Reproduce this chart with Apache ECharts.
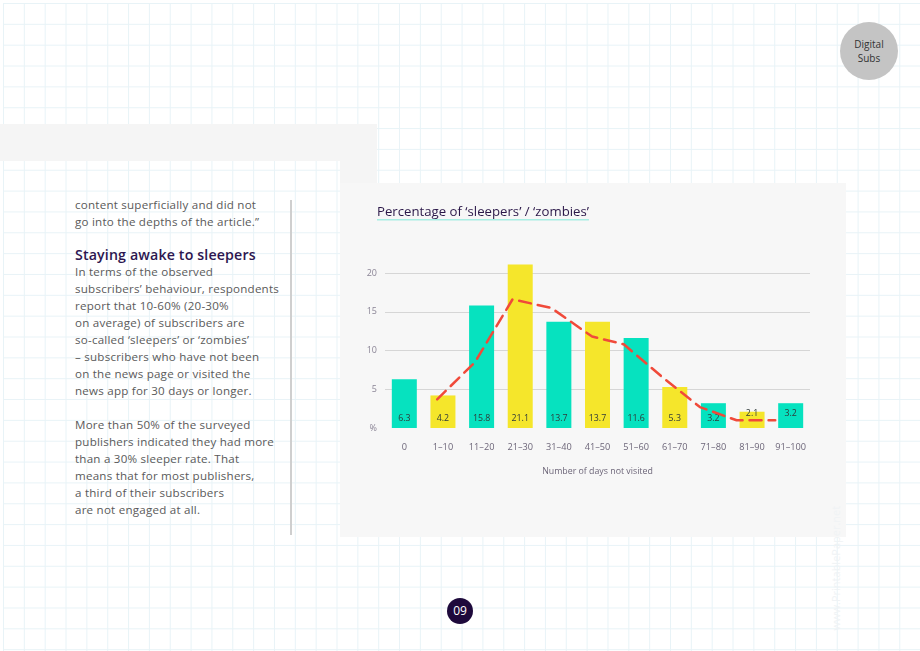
<!DOCTYPE html>
<html>
<head>
<meta charset="utf-8">
<script src="https://cdn.jsdelivr.net/npm/echarts@6/dist/echarts.min.js"></script>
<style>
  html, body { margin: 0; padding: 0; width: 920px; height: 651px; overflow: hidden; background: #ffffff; font-family: "Open Sans", Lato, sans-serif; }
  #page { position: absolute; left: 0; top: 0; width: 920px; height: 651px; }
  #gridbg { position: absolute; left: 3px; top: 3px; width: 917px; height: 648px;
    background-image:
      linear-gradient(to right, #e8f3f7 1px, transparent 1px),
      linear-gradient(to bottom, #e8f3f7 1px, transparent 1px);
    background-size: 20.85px 20.85px; }
  .grey { position: absolute; background: #f5f5f5; }
  #textcol { position: absolute; left: 75px; top: 196px; width: 225px; color: #5a5a5a; font-size: 11.6px; line-height: 17px; letter-spacing: 0.22px; }
  #textcol p { margin: 0; }
  #textcol h3 { margin: 16px 0 0 0; font-size: 14.2px; line-height: 17px; color: #2d1650; font-weight: 600; letter-spacing: 0.15px; }
  #sep { position: absolute; left: 290px; top: 200px; width: 1.5px; height: 335px; background: #cfcfcf; }
  #badge { position: absolute; left: 840px; top: 22px; width: 58px; height: 58px; border-radius: 50%; background: #c4c4c4; color: #333; font-size: 10px; line-height: 14px; text-align: center; display: flex; align-items: center; justify-content: center; }
  #pagenum { position: absolute; left: 447px; top: 598px; width: 26px; height: 26px; border-radius: 50%; background: #1e0a3c; color: #fff; font-size: 12px; line-height: 26px; text-align: center; }
  #wm { position: absolute; left: 790px; top: 578px; width: 90px; transform: rotate(-90deg); transform-origin: center; color: #f0f3f5; font-size: 11px; white-space: nowrap; }
  #chart { position: absolute; left: 0; top: 0; width: 920px; height: 651px; }
</style>
</head>
<body>
<div id="page">
  <div id="gridbg"></div>
  <div class="grey" style="left:0;top:124px;width:377px;height:37px;"></div>
  <div class="grey" style="left:340px;top:161px;width:37px;height:22px;"></div>
  <div class="grey" style="left:340px;top:183px;width:506px;height:354px;background:#f7f7f7;"></div>
  <div id="textcol">
    <p>content superficially and did not<br>go into the depths of the article.”</p>
    <h3>Staying awake to sleepers</h3>
    <p>In terms of the observed<br>subscribers’ behaviour, respondents<br>report that 10-60% (20-30%<br>on average) of subscribers are<br>so-called ‘sleepers’ or ‘zombies’<br>– subscribers who have not been<br>on the news page or visited the<br>news app for 30 days or longer.</p>
    <p style="margin-top:17px;">More than 50% of the surveyed<br>publishers indicated they had more<br>than a 30% sleeper rate. That<br>means that for most publishers,<br>a third of their subscribers<br>are not engaged at all.</p>
  </div>
  <div id="sep"></div>
  <div id="badge"><div>Digital<br>Subs</div></div>
  <div id="pagenum">09</div>
  <div id="wm">www.PrintablePaper.net</div>
  <div id="chart"></div>
</div>
<script>
// ---- data ----
const categories = ['0', '1–10', '11–20', '21–30', '31–40', '41–50', '51–60', '61–70', '71–80', '81–90', '91–100'];
const sleeperValues = [6.3, 4.2, 15.8, 21.1, 13.7, 13.7, 11.6, 5.3, 3.2, 2.1, 3.2];
const trendX = [0.85, 1.83, 2.8, 3.8, 4.86, 5.68, 6.67, 7.65, 8.6, 9.6];
const trendY = [3.7, 8.5, 16.6, 15.5, 11.8, 10.8, 6.6, 2.7, 1.0, 1.0];
const yTicks = [0, 5, 10, 15, 20];
const titleText = 'Percentage of ‘sleepers’ / ‘zombies’';
const axisName = 'Number of days not visited';

// ---- styles ----
const FONT = 'Open Sans';
const teal = '#06e2bf', yellow = '#f5e62b';
const labelDist = { 9: 10, 10: 10 };
const barData = sleeperValues.map((v, i) => ({
  value: v,
  itemStyle: { color: i % 2 === 0 ? teal : yellow },
  label: { distance: labelDist[i] || 5 }
}));
const trendData = trendX.map((x, i) => [x, trendY[i]]);

const titleFont = '500 13.2px "Open Sans"';
const cv = document.createElement('canvas').getContext('2d');
cv.font = titleFont;
const titleW = cv.measureText(titleText).width;

const chart = echarts.init(document.getElementById('chart'), null, { renderer: 'canvas' });
chart.setOption({
  backgroundColor: 'transparent',
  animation: false,
  textStyle: { fontFamily: FONT },
  title: {
    text: titleText, left: 372, top: 201,
    textStyle: { color: '#2a1748', fontSize: 13.2, fontWeight: 500, fontFamily: FONT }
  },
  graphic: [{
    type: 'rect', z: 10,
    shape: { x: 377, y: 219, width: titleW, height: 1.5 },
    style: { fill: '#a8eee3' }
  }],
  grid: { left: 385, right: 110, top: 273, bottom: 223, containLabel: false },
  xAxis: [{
    type: 'category', data: categories,
    axisLine: { show: false }, axisTick: { show: false },
    axisLabel: { color: '#6d6679', fontSize: 9.2, margin: 15, interval: 0 },
    name: axisName, nameLocation: 'middle', nameGap: 39,
    nameTextStyle: { color: '#6d6679', fontSize: 8.8 }
  }, {
    type: 'value', min: -0.5, max: 10.5, show: false
  }],
  yAxis: {
    type: 'value', min: yTicks[0], max: yTicks[yTicks.length - 1], interval: yTicks[1] - yTicks[0],
    axisLine: { show: false }, axisTick: { show: false },
    axisLabel: { color: '#8b8596', fontSize: 9, margin: 8, formatter: v => v === 0 ? '%' : String(v) },
    splitLine: { lineStyle: { color: ['transparent', '#d6d6d6', '#d6d6d6', '#d6d6d6', '#d6d6d6'], width: 1 } }
  },
  series: [{
    type: 'bar', data: barData, barWidth: 25, clip: false,
    label: { show: true, position: 'insideBottom', color: '#2f3a3a', fontSize: 8.8,
      formatter: p => String(p.value) }
  }, {
    type: 'line', xAxisIndex: 1, data: trendData, symbol: 'none', z: 5,
    lineStyle: { color: '#f04a3a', width: 2.5, type: [12, 7], cap: 'round' }
  }]
});
</script>
</body>
</html>
